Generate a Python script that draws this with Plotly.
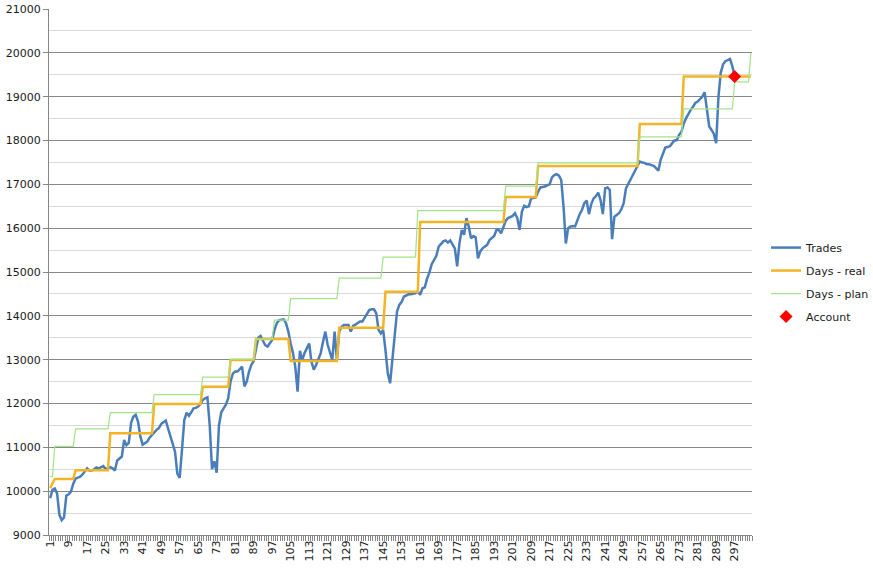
import plotly.graph_objects as go

# ---------------- data ----------------
n_categories = 304
categories = list(range(1, n_categories + 1))
tick_labels = [str(v) for v in range(1, 298, 8)]

trades = [
    9840, 10030, 10060, 9950, 9460, 9340, 9400, 9900, 9930, 9990,
    10170, 10290, 10310, 10330, 10380, 10450, 10520, 10470, 10470, 10500,
    10540, 10520, 10540, 10570, 10500, 10520, 10550, 10520, 10470, 10700,
    10750, 10790, 11170, 11050, 11100, 11560, 11700, 11740, 11590, 11250,
    11060, 11090, 11130, 11220, 11280, 11360, 11400, 11440, 11530, 11570,
    11610, 11430, 11250, 11100, 10900, 10400, 10300, 10940, 11620, 11790,
    11720, 11800, 11890, 11900, 11930, 11990, 12080, 12120, 12140, 11500,
    10500, 10680, 10420, 11500, 11800, 11890, 11970, 12120, 12500, 12680,
    12730, 12730, 12780, 12840, 12390, 12500, 12730, 12880, 12970, 13220,
    13500, 13540, 13450, 13330, 13300, 13370, 13450, 13680, 13830, 13900,
    13910, 13920, 13830, 13640, 13370, 13150, 12840, 12270, 13200, 12990,
    13150, 13260, 13370, 12950, 12770, 12880, 13000, 13150, 13410, 13640,
    13340, 13150, 12990, 13640, 13000, 13640, 13750, 13790, 13790, 13790,
    13640, 13770, 13800, 13830, 13870, 13870, 13960, 14060, 14130, 14150,
    14150, 14060, 13680, 13600, 13680, 13220, 12690, 12460, 12990, 13640,
    14100, 14250, 14320, 14440, 14470, 14490, 14490, 14510, 14520, 14560,
    14480, 14630, 14650, 14850, 14990, 15180, 15280, 15370, 15580, 15650,
    15700, 15720, 15670, 15720, 15620, 15540, 15130, 15660, 15960, 15850,
    16230, 16040, 15770, 15820, 15790, 15310, 15470, 15540, 15580, 15620,
    15730, 15780, 15820, 15960, 15960, 15880, 16050, 16170, 16230, 16250,
    16280, 16340, 16230, 15960, 16380, 16510, 16480, 16500, 16680, 16690,
    16700, 16830, 16930, 16940, 16950, 16980, 17000, 17160, 17210, 17230,
    17200, 17100, 16490, 15650, 16000, 16040, 16050, 16040, 16190, 16320,
    16420, 16570, 16630, 16320, 16550, 16680, 16730, 16810, 16640, 16320,
    16910, 16930, 16870, 15750, 16260, 16300, 16340, 16430, 16570, 16910,
    17010, 17100, 17190, 17290, 17420, 17520, 17500, 17490, 17460, 17460,
    17440, 17420, 17370, 17310, 17560, 17720, 17840, 17850, 17870, 17940,
    18000, 18010, 18130, 18200, 18390, 18510, 18620, 18700, 18770, 18860,
    18890, 18940, 19000, 19100, 18750, 18320, 18240, 18150, 17940, 19000,
    19550, 19740, 19810, 19840, 19860, 19690, 19460,
]

# step series: level values and how many consecutive days hold each level
days_real_levels = [10070, 10170, 10280, 10480, 11320, 11990, 12380, 12990, 13470,
                    12970, 13730, 14550, 16140, 16710, 17420, 18375, 19460]
days_real_counts = [1, 1, 9, 15, 19, 21, 12, 11, 15, 21, 20, 15, 37, 14, 44, 19, 30]

days_plan_levels = [10330, 11020, 11420, 11790, 12200, 12600, 13010, 13470, 13900, 14390,
                    14860, 15340, 16400, 16960, 17490, 18080, 18720, 19340, 20000]
days_plan_counts = [2, 9, 15, 19, 21, 12, 11, 8, 7, 21, 19, 15, 38, 14, 44, 19, 22, 7, 1]

account_day = [297]
account_value = [19460]

# ---------------- build ----------------
days_real = [v for v, c in zip(days_real_levels, days_real_counts) for _ in range(c)]
days_plan = [v for v, c in zip(days_plan_levels, days_plan_counts) for _ in range(c)]

FONT = "DejaVu Sans"
fig = go.Figure()
fig.add_trace(go.Scatter(x=categories[:len(trades)], y=trades, mode="lines", name="Trades",
                         line=dict(color="#4A7EBB", width=2.5), legendgroup="a"))
fig.add_trace(go.Scatter(x=categories, y=days_real, mode="lines", name="Days - real",
                         line=dict(color="#F3B525", width=2.5), legendgroup="b"))
fig.add_trace(go.Scatter(x=categories, y=days_plan, mode="lines", name="Days - plan",
                         line=dict(color="#A3E38A", width=1.25), legendgroup="c"))
fig.add_trace(go.Scatter(x=account_day, y=account_value, mode="markers", name="Account",
                         marker=dict(symbol="diamond", color="#FF0000", size=10),
                         legendgroup="d"))

fig.update_layout(
    width=873, height=571,
    margin=dict(l=49, r=121, t=9, b=36, autoexpand=False),
    paper_bgcolor="white", plot_bgcolor="white",
    font=dict(family=FONT, size=11, color="#1a1a1a"),
    showlegend=True,
    legend=dict(x=1.02, xanchor="left", y=0.574, yanchor="top",
                font=dict(family=FONT, size=11, color="#1a1a1a"),
                traceorder="grouped", tracegroupgap=4, bgcolor="rgba(0,0,0,0)"),
    xaxis=dict(range=[0.5, n_categories + 0.5], tickmode="array",
               tickvals=[int(t) for t in tick_labels], ticktext=tick_labels,
               tickangle=-90, ticks="", showgrid=False, zeroline=False,
               showline=True, linecolor="#868686", linewidth=1, automargin=False,
               tickfont=dict(family=FONT, size=11, color="#1a1a1a"),
               minor=dict(tickmode="linear", tick0=0.5, dtick=1, ticks="outside",
                          ticklen=5, tickcolor="#868686", showgrid=False)),
    yaxis=dict(range=[9000, 21000], tickmode="linear", tick0=9000, dtick=1000,
               ticks="outside", ticklen=5, tickcolor="#868686", automargin=False,
               showgrid=True, gridcolor="#868686", gridwidth=1, zeroline=False,
               showline=True, linecolor="#868686", linewidth=1,
               tickformat="d",
               tickfont=dict(family=FONT, size=11, color="#1a1a1a"),
               minor=dict(dtick=500, showgrid=True, gridcolor="#D9D9D9", gridwidth=1)),
)

fig.write_html("out.html", config={"displayModeBar": False},
               post_script="document.body.style.margin='0';")
